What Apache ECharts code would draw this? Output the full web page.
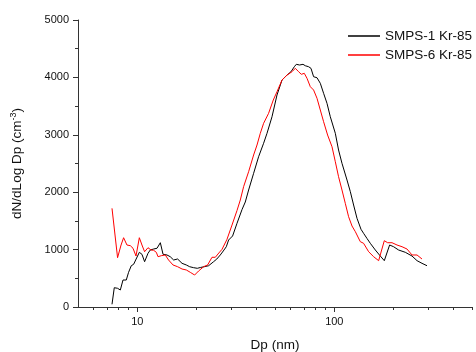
<!DOCTYPE html>
<html>
<head>
<meta charset="utf-8">
<script src="https://cdn.jsdelivr.net/npm/echarts@6/dist/echarts.min.js"></script>
<style>
html,body{margin:0;padding:0;background:#fff;}
#c{width:476px;height:352px;}
</style>
</head>
<body>
<div id="c"></div>
<script>
var seriesNames = ['SMPS-1 Kr-85', 'SMPS-6 Kr-85'];

var smps1Dp = [7.44,7.64,7.94,8.20,8.46,8.79,9.03,9.32,9.58,9.80,10.24,10.56,10.89,11.33,11.64,12.10,12.59,13.09,13.51,14.15,14.70,15.29,16.02,16.87,17.73,18.44,19.31,20.17,20.88,21.88,23.01,24.39,25.33,26.38,27.32,28.30,29.07,30.46,32.07,34.01,35.33,36.73,38.94,41.28,43.76,45.54,48.28,51.18,54.27,57.54,60.29,62.66,64.14,66.67,69.37,71.25,74.05,76.15,78.51,81.70,84.91,88.25,91.82,95.43,101.2,105.1,109.4,116.0,120.6,125.3,130.4,136.6,140.8,146.6,152.3,161.5,171.2,179.4,190.9,200.0,212.0,229.3,248.0,263.0,278.7,295.5];
var smps1Val = [47,336,326,296,470,470,604,719,744,719,953,918,789,935,993,1010,1023,1120,918,906,876,819,836,761,732,702,685,674,688,702,719,789,836,906,976,1050,1167,1237,1458,1698,1829,2038,2329,2618,2852,3026,3315,3693,3954,4041,4099,4186,4228,4216,4228,4203,4186,4158,4012,3994,3897,3723,3548,3315,3026,2735,2503,2212,2009,1777,1545,1354,1284,1193,1110,993,888,807,1080,1050,993,953,888,807,761,719];

var smps6Dp = [7.44,7.94,8.27,8.52,8.86,9.22,9.51,9.85,10.24,10.56,10.89,11.33,11.74,12.10,12.49,12.74,13.24,13.87,14.41,15.18,16.02,16.87,17.73,18.58,19.54,20.47,21.70,22.75,23.94,24.89,25.93,26.92,28.53,30.25,32.07,33.33,34.64,36.73,38.94,40.52,42.11,43.76,46.39,49.01,51.18,54.27,57.54,61.00,63.39,65.89,68.00,70.43,72.68,75.54,78.51,81.70,84.91,88.25,92.47,97.35,101.2,105.1,109.4,113.7,118.2,123.0,127.9,135.5,140.8,149.4,158.4,167.9,179.4,186.5,196.3,208.1,220.7,233.9,248.0,263.0,278.7];
var smps6Val = [1719,859,1080,1207,1080,1068,1023,888,1207,1080,963,1033,993,988,953,876,894,906,819,732,702,662,645,604,557,627,702,732,866,866,941,1005,1179,1428,1681,1864,2096,2357,2648,2822,3026,3200,3374,3606,3750,3954,4041,4099,4158,4099,4054,4071,3984,3838,3780,3636,3432,3228,2996,2792,2531,2270,2038,1806,1573,1411,1312,1138,1110,963,876,807,1155,1120,1120,1080,1050,1010,906,906,836];

var xMajorTicks = [10, 100];
var xMinorTicks = [6,7,8,9,20,30,40,50,60,70,80,90,200,300,400,500];
var xMin = 5, xMax = 500;
var yMin = 0, yMax = 5000, yStep = 1000;

function zip(a, b) { return a.map(function (v, i) { return [v, b[i]]; }); }

var font = 'Liberation Sans, Arial, sans-serif';
var chart = echarts.init(document.getElementById('c'), null, {renderer: 'canvas'});
chart.setOption({
  animation: false,
  backgroundColor: '#fff',
  grid: {left: 78, right: 4, top: 20, bottom: 45, containLabel: false, outerBoundsMode: 'none'},
  legend: {
    orient: 'vertical',
    left: 348,
    top: 29,
    padding: 0,
    itemWidth: 32,
    itemHeight: 1.5,
    itemGap: 5,
    icon: 'rect',
    textStyle: {fontFamily: font, fontSize: 13.5, color: '#111'},
    data: seriesNames
  },
  xAxis: [{
    type: 'log',
    logBase: 10,
    min: xMin,
    max: xMax,
    name: 'Dp (nm)',
    nameLocation: 'middle',
    nameGap: 31,
    nameTextStyle: {fontFamily: font, fontSize: 13.5, color: '#111'},
    axisLine: {show: true, onZero: false, lineStyle: {color: '#333', width: 1}},
    axisTick: {show: true, inside: false, length: 5, customValues: xMajorTicks, lineStyle: {color: '#333'}},
    minorTick: {show: false},
    axisLabel: {customValues: xMajorTicks, fontFamily: font, fontSize: 11, color: '#111', margin: 9},
    splitLine: {show: false}
  }, {
    type: 'log',
    logBase: 10,
    min: xMin,
    max: xMax,
    position: 'bottom',
    axisLine: {show: false, onZero: false},
    axisTick: {show: true, inside: false, length: 3, customValues: xMinorTicks, lineStyle: {color: '#333'}},
    axisLabel: {show: false},
    splitLine: {show: false}
  }],
  yAxis: {
    type: 'value',
    min: yMin,
    max: yMax,
    interval: yStep,
    name: 'dN/dLog Dp (cm{sup|-3})',
    nameLocation: 'middle',
    nameGap: 53,
    nameRotate: 90,
    nameTextStyle: {
      fontFamily: font, fontSize: 13.5, color: '#111',
      rich: {sup: {fontFamily: font, fontSize: 9, color: '#111', verticalAlign: 'top', padding: [0,0,7,0]}}
    },
    axisLine: {show: true, lineStyle: {color: '#333', width: 1}},
    axisTick: {show: true, inside: false, length: 5, lineStyle: {color: '#333'}},
    minorTick: {show: true, splitNumber: 2, length: 3, lineStyle: {color: '#333'}},
    axisLabel: {fontFamily: font, fontSize: 11, color: '#111', margin: 9, formatter: function (v) { return String(v); }},
    splitLine: {show: false}
  },
  series: [{
    name: seriesNames[0],
    type: 'line',
    data: zip(smps1Dp, smps1Val),
    showSymbol: false,
    symbol: 'none',
    lineStyle: {color: '#000', width: 1},
    itemStyle: {color: '#000'}
  }, {
    name: seriesNames[1],
    type: 'line',
    data: zip(smps6Dp, smps6Val),
    showSymbol: false,
    symbol: 'none',
    lineStyle: {color: '#ff0000', width: 1},
    itemStyle: {color: '#ff0000'}
  }]
});
</script>
</body>
</html>
